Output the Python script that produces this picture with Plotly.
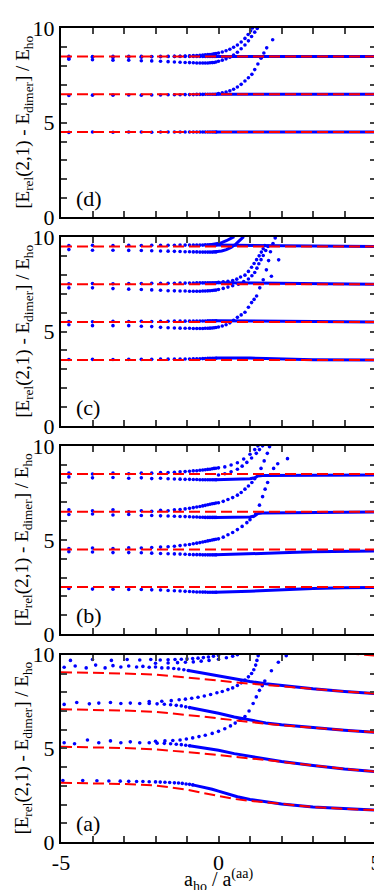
import plotly.graph_objects as go

# shared x grid for the sparse dotted rows on the negative side
XN = [-4.75, -4.0, -3.35, -2.85, -2.45, -2.12, -1.84, -1.6, -1.4, -1.22, -1.06,
      -0.92, -0.8, -0.69, -0.59, -0.5, -0.42, -0.34, -0.27, -0.2, -0.14, -0.08]

# ---------------- panel (d) ----------------
D_RED = [4.5, 6.5, 8.5]
D_ROW45 = [4.48, 4.5, 4.49, 4.5, 4.5, 4.49, 4.5, 4.5, 4.5, 4.5, 4.5, 4.5, 4.5, 4.5, 4.5, 4.5, 4.5, 4.5, 4.5, 4.5, 4.5, 4.5]
D_LINE45 = [(-0.1, 4.5), (5, 4.5)]
D_ROW65 = [6.43, 6.45, 6.45, 6.46, 6.45, 6.46, 6.46, 6.47, 6.47, 6.47, 6.48, 6.48, 6.48, 6.49, 6.49, 6.49, 6.5, 6.5, 6.5, 6.5, 6.5, 6.5]
D_LINE65 = [(-0.1, 6.5), (5, 6.5)]
D_RISE65 = [(0.0, 6.53), (0.12, 6.57), (0.24, 6.62), (0.36, 6.68), (0.48, 6.76), (0.6, 6.88), (0.72, 7.02),
            (0.84, 7.2), (0.95, 7.37), (1.06, 7.55), (1.15, 7.8), (1.25, 8.1), (1.35, 8.4), (1.44, 8.68),
            (1.53, 8.95), (1.72, 9.38)]
D_ROW85 = [8.5, 8.49, 8.5, 8.5, 8.5, 8.49, 8.5, 8.5, 8.5, 8.5, 8.5, 8.5, 8.5, 8.5, 8.5, 8.5, 8.5, 8.5, 8.5, 8.5, 8.5, 8.5]
D_LINE85 = [(-0.1, 8.5), (5, 8.5)]
D_ROW85_LOW = [8.35, 8.32, 8.3, 8.3, 8.27, 8.26, 8.24, 8.22, 8.2, 8.19, 8.18, 8.17, 8.16, 8.15, 8.15, 8.15, 8.15, 8.15, 8.16, 8.17, 8.18, 8.2]
D_RISE85_LOW = [(0.0, 8.24), (0.12, 8.3), (0.24, 8.37), (0.36, 8.46), (0.48, 8.57), (0.6, 8.72), (0.72, 8.9),
                (0.84, 9.1), (0.95, 9.32), (1.05, 9.55), (1.15, 9.78), (1.23, 9.98)]
D_ROW85_UP = [8.42, 8.46, 8.44, 8.47, 8.46, 8.48, 8.48, 8.49, 8.5, 8.51, 8.52, 8.53, 8.54, 8.55, 8.56, 8.57, 8.58, 8.59, 8.6, 8.61, 8.63, 8.65]
D_RISE85_UP = [(0.0, 8.68), (0.12, 8.73), (0.24, 8.8), (0.36, 8.88), (0.48, 8.98), (0.6, 9.1), (0.72, 9.26),
               (0.84, 9.45), (0.94, 9.66), (1.02, 9.85), (1.08, 10.0)]

# ---------------- panel (c) ----------------
C_RED = [3.5, 5.5, 7.5, 9.5]
C_ROW35 = [3.52, 3.53, 3.52, 3.53, 3.53, 3.53, 3.54, 3.54, 3.54, 3.55, 3.55, 3.55, 3.56, 3.56, 3.56, 3.57, 3.57, 3.58, 3.58, 3.58, 3.59, 3.59]
C_LINE35 = [(-0.1, 3.6), (0.5, 3.61), (1, 3.6), (1.5, 3.57), (2, 3.54), (2.5, 3.52), (3, 3.51), (5, 3.5)]
C_ROW55_UP = [5.53, 5.52, 5.54, 5.53, 5.54, 5.53, 5.54, 5.54, 5.55, 5.55, 5.55, 5.55, 5.56, 5.56, 5.56, 5.56, 5.56, 5.57, 5.57, 5.57, 5.57, 5.57]
C_LINE55 = [(-0.1, 5.57), (1, 5.56), (2, 5.52), (5, 5.5)]
C_ROW55_LOW = [5.36, 5.31, 5.31, 5.31, 5.28, 5.26, 5.22, 5.2, 5.19, 5.18, 5.17, 5.17, 5.16, 5.16, 5.16, 5.16, 5.17, 5.17, 5.18, 5.19, 5.2, 5.21]
C_RISE55 = [(0.0, 5.24), (0.12, 5.29), (0.24, 5.36), (0.36, 5.46), (0.48, 5.6), (0.6, 5.75), (0.72, 5.88),
            (0.84, 6.02), (0.95, 6.28), (1.05, 6.53), (1.13, 6.7), (1.21, 6.88), (1.31, 7.31), (1.42, 7.74),
            (1.52, 8.26), (1.59, 8.75), (1.65, 9.22), (1.73, 9.65), (1.8, 9.95)]
C_STRAY = [(1.68, 7.92), (1.91, 8.79)]
C_ROW75_UP = [7.53, 7.54, 7.53, 7.54, 7.54, 7.55, 7.55, 7.55, 7.55, 7.56, 7.56, 7.56, 7.56, 7.57, 7.57, 7.57, 7.57, 7.58, 7.58, 7.58, 7.58, 7.58]
C_LINE75 = [(-0.1, 7.58), (1, 7.56), (2, 7.52), (5, 7.5)]
C_ROW75_LOW = [7.31, 7.31, 7.27, 7.24, 7.22, 7.2, 7.18, 7.16, 7.15, 7.14, 7.14, 7.13, 7.13, 7.13, 7.13, 7.14, 7.14, 7.15, 7.16, 7.17, 7.18, 7.19]
C_RISE75_LOW = [(0.0, 7.22), (0.15, 7.28), (0.3, 7.35), (0.45, 7.42), (0.63, 7.5), (0.8, 7.64), (0.95, 7.78),
                (1.06, 7.95), (1.15, 8.12), (1.22, 8.35), (1.28, 8.58), (1.35, 8.8), (1.42, 9.02), (1.5, 9.28),
                (1.57, 9.5)]
C_RISE75_UP = [(0.0, 7.6), (0.15, 7.63), (0.3, 7.66), (0.45, 7.7), (0.58, 7.77), (0.7, 7.88), (0.84, 7.98),
               (0.95, 8.18), (1.05, 8.4), (1.13, 8.6), (1.21, 8.8), (1.29, 9.0), (1.36, 9.2), (1.42, 9.38),
               (1.47, 9.55)]
C_ROW95_UP = [9.55, 9.56, 9.55, 9.56, 9.55, 9.56, 9.56, 9.56, 9.56, 9.57, 9.57, 9.57, 9.57, 9.57, 9.57, 9.57, 9.58, 9.58, 9.58, 9.58, 9.58, 9.58]
C_LINE95 = [(-0.1, 9.57), (1, 9.55), (5, 9.5)]
C_ROW95_LOW = [9.33, 9.3, 9.3, 9.29, 9.28, 9.27, 9.26, 9.25, 9.24, 9.23, 9.22, 9.22, 9.21, 9.21, 9.2, 9.2, 9.2, 9.2, 9.2, 9.2, 9.21, 9.21]
C_RISE95_LOW = [(-0.1, 9.22), (0.1, 9.26), (0.25, 9.33), (0.4, 9.45), (0.55, 9.62), (0.7, 9.85), (0.8, 10.02)]
C_RISE95_UP = [(-0.3, 9.58), (-0.1, 9.62), (0.1, 9.7), (0.25, 9.8), (0.4, 9.92), (0.5, 10.02)]

# ---------------- panel (b) ----------------
B_RED = [2.5, 4.5, 6.5, 8.5]
B_ROW25 = [2.42, 2.39, 2.38, 2.37, 2.37, 2.35, 2.34, 2.32, 2.3, 2.29, 2.27, 2.26, 2.25, 2.24, 2.24, 2.23, 2.23, 2.22, 2.22, 2.22, 2.22, 2.22]
B_LINE25 = [(-0.1, 2.22), (0.5, 2.24), (1, 2.28), (1.5, 2.32), (2, 2.36), (3, 2.42), (4, 2.46), (5, 2.48)]
B_ROW45_LOW = [4.38, 4.36, 4.33, 4.33, 4.32, 4.3, 4.28, 4.27, 4.26, 4.25, 4.24, 4.23, 4.22, 4.22, 4.22, 4.21, 4.21, 4.21, 4.21, 4.21, 4.21, 4.21]
B_LINE45 = [(-0.1, 4.21), (1, 4.25), (2, 4.32), (3, 4.37), (4, 4.4), (5, 4.42)]
B_ROW45_UP = [4.55, 4.57, 4.55, 4.58, 4.57, 4.6, 4.62, 4.64, 4.67, 4.7, 4.73, 4.76, 4.8, 4.83, 4.86, 4.89, 4.92, 4.95, 4.97, 5.0, 5.02, 5.04]
B_RISE45 = [(0.0, 5.06), (0.15, 5.15), (0.3, 5.28), (0.45, 5.4), (0.6, 5.55), (0.75, 5.72), (0.9, 5.92),
            (1.0, 6.08), (1.1, 6.25), (1.18, 6.38), (1.3, 6.85), (1.4, 7.3), (1.48, 7.7), (1.56, 8.05),
            (1.65, 8.45), (1.75, 8.8), (1.88, 9.05), (2.19, 9.32)]
B_ROW65_LOW = [6.35, 6.38, 6.33, 6.35, 6.3, 6.3, 6.28, 6.27, 6.26, 6.25, 6.24, 6.23, 6.22, 6.22, 6.21, 6.21, 6.2, 6.2, 6.2, 6.2, 6.2, 6.2]
B_LINE65 = [(-0.1, 6.2), (0.6, 6.19), (1.0, 6.22), (1.15, 6.28), (1.25, 6.4), (1.4, 6.43), (2, 6.44), (3, 6.46), (5, 6.48)]
B_ROW65_UP = [6.6, 6.55, 6.6, 6.5, 6.55, 6.52, 6.58, 6.55, 6.6, 6.62, 6.65, 6.68, 6.72, 6.75, 6.78, 6.81, 6.84, 6.87, 6.9, 6.92, 6.94, 6.96]
B_RISE65 = [(0.0, 6.98), (0.15, 7.05), (0.3, 7.15), (0.45, 7.25), (0.6, 7.38), (0.72, 7.52), (0.84, 7.7),
            (0.95, 7.87), (1.06, 8.05), (1.15, 8.25), (1.25, 8.45), (1.35, 8.8), (1.45, 9.2), (1.55, 9.6),
            (1.62, 9.95)]
B_ROW85_LOW = [8.35, 8.3, 8.32, 8.28, 8.3, 8.26, 8.28, 8.25, 8.24, 8.23, 8.22, 8.22, 8.21, 8.21, 8.2, 8.2, 8.2, 8.2, 8.2, 8.2, 8.2, 8.2]
B_LINE85 = [(-0.1, 8.2), (0.6, 8.22), (1.0, 8.25), (1.15, 8.3), (1.25, 8.4), (1.4, 8.42), (2, 8.43), (3, 8.44), (5, 8.45)]
B_ROW85_UP = [8.55, 8.5, 8.55, 8.52, 8.55, 8.55, 8.58, 8.58, 8.6, 8.62, 8.63, 8.65, 8.67, 8.68, 8.7, 8.72, 8.73, 8.75, 8.76, 8.78, 8.8, 8.81]
B_RISE85_UP = [(0.0, 8.83), (0.2, 8.88), (0.4, 8.98), (0.6, 9.1), (0.8, 9.3), (1.0, 9.55), (1.15, 9.8), (1.25, 10.0)]
B_RISE85_MID = [(0.0, 8.45), (0.2, 8.52), (0.4, 8.62), (0.6, 8.76), (0.75, 8.92), (0.9, 9.12), (1.05, 9.35),
                (1.2, 9.6), (1.3, 9.8), (1.4, 10.0)]

# ---------------- panel (a) ----------------
A_XR = [-5, -4, -3, -2, -1, -0.5, 0, 0.5, 1, 1.5, 2, 3, 4, 5]
A_RED1 = [3.16, 3.13, 3.1, 3.02, 2.8, 2.62, 2.45, 2.3, 2.2, 2.12, 2.02, 1.87, 1.77, 1.7]
A_RED2 = [5.09, 5.06, 5.02, 4.95, 4.82, 4.72, 4.65, 4.55, 4.48, 4.38, 4.28, 4.08, 3.9, 3.76]
A_RED3 = [7.09, 7.06, 7.02, 6.95, 6.8, 6.7, 6.6, 6.5, 6.42, 6.32, 6.24, 6.1, 5.97, 5.86]
A_RED4 = [9.07, 9.04, 9.0, 8.94, 8.8, 8.7, 8.62, 8.53, 8.46, 8.38, 8.3, 8.16, 8.04, 7.93]
A_RED5 = [11.1, 11.07, 11.03, 10.97, 10.85, 10.75, 10.67, 10.58, 10.5, 10.42, 10.35, 10.2, 10.08, 9.96]

A_DOT1 = [(-4.94, 3.28), (-4.31, 3.28), (-3.86, 3.27), (-3.48, 3.26), (-3.12, 3.25), (-2.85, 3.24), (-2.6, 3.23),
          (-2.4, 3.23), (-2.2, 3.22), (-2.0, 3.21), (-1.85, 3.2), (-1.7, 3.19), (-1.55, 3.18), (-1.4, 3.16),
          (-1.27, 3.15), (-1.15, 3.13), (-1.03, 3.1), (-0.92, 3.08), (-0.82, 3.05)]
A_LINE1 = [(-0.82, 3.05), (-0.5, 2.95), (-0.2, 2.82), (0, 2.72), (0.3, 2.56), (0.6, 2.42), (1.0, 2.27),
           (1.5, 2.13), (2, 2.03), (3, 1.87), (4, 1.77), (5, 1.7)]
A_DOT2 = [(-4.9, 5.3), (-4.57, 5.25), (-4.16, 5.45), (-3.8, 5.3), (-3.43, 5.4), (-3.1, 5.3), (-2.8, 5.35),
          (-2.5, 5.3), (-2.2, 5.3), (-1.95, 5.28), (-1.72, 5.27), (-1.52, 5.25), (-1.34, 5.22), (-1.18, 5.2),
          (-1.04, 5.17), (-0.92, 5.14)]
A_LINE2 = [(-0.92, 5.14), (-0.5, 5.04), (0, 4.9), (0.5, 4.72), (1, 4.58), (1.5, 4.42), (2, 4.3),
           (3, 4.09), (4, 3.9), (5, 3.76)]
A_RISE2 = [(-2.0, 5.38), (-1.7, 5.4), (-1.45, 5.42), (-1.22, 5.45), (-1.02, 5.5), (-0.82, 5.56), (-0.62, 5.63),
           (-0.42, 5.7), (-0.2, 5.8), (0.0, 5.91), (0.2, 6.05), (0.38, 6.2), (0.53, 6.35), (0.68, 6.5),
           (0.84, 6.7), (0.97, 7.0), (1.1, 7.4), (1.2, 7.75), (1.3, 8.1), (1.39, 8.35), (1.47, 8.6),
           (1.68, 9.15), (1.9, 9.6), (2.15, 9.95)]
A_DOT3 = [(-4.9, 7.35), (-4.5, 7.45), (-4.1, 7.38), (-3.8, 7.42), (-3.43, 7.45), (-3.1, 7.4), (-2.8, 7.42),
          (-2.5, 7.4), (-2.2, 7.4), (-1.95, 7.38), (-1.72, 7.36), (-1.52, 7.33), (-1.34, 7.3), (-1.18, 7.27),
          (-1.04, 7.22), (-0.92, 7.18)]
A_LINE3 = [(-0.92, 7.18), (-0.5, 7.05), (0, 6.88), (0.5, 6.68), (1, 6.5), (1.5, 6.36), (2, 6.26),
           (3, 6.1), (4, 5.97), (5, 5.86)]
A_RISE3 = [(-2.2, 7.5), (-1.8, 7.52), (-1.5, 7.55), (-1.25, 7.6), (-1.05, 7.63), (-0.85, 7.68), (-0.65, 7.73),
           (-0.45, 7.8), (-0.25, 7.88), (-0.05, 7.97), (0.12, 8.04), (0.3, 8.14), (0.45, 8.23), (0.6, 8.36),
           (0.72, 8.5), (0.84, 8.65), (0.95, 8.82), (1.05, 9.0), (1.12, 9.2), (1.18, 9.45), (1.22, 9.7), (1.26, 9.95)]
A_DOT4 = [(-4.9, 9.33), (-4.55, 9.4), (-4.2, 9.3), (-3.9, 9.45), (-3.6, 9.3), (-3.35, 9.42), (-3.1, 9.35),
          (-2.85, 9.4), (-2.6, 9.35), (-2.4, 9.38), (-2.2, 9.33), (-2.0, 9.35), (-1.8, 9.3), (-1.6, 9.3),
          (-1.42, 9.27), (-1.26, 9.24), (-1.1, 9.2), (-0.96, 9.16)]
A_LINE4 = [(-0.96, 9.16), (-0.5, 9.02), (0, 8.86), (0.5, 8.7), (1, 8.57), (1.5, 8.45), (2, 8.35),
           (3, 8.18), (4, 8.04), (5, 7.93)]
A_RISE4 = [(-4.7, 9.7), (-4.0, 9.75), (-3.4, 9.7), (-2.9, 9.75), (-2.5, 9.72), (-2.15, 9.75), (-1.85, 9.72),
           (-1.6, 9.73), (-1.38, 9.75), (-1.18, 9.76), (-1.0, 9.78), (-0.82, 9.8), (-0.65, 9.82), (-0.48, 9.85),
           (-0.32, 9.88), (-0.16, 9.92), (0.0, 9.96)]
A_RISE4B = [(-2.0, 9.55), (-1.6, 9.56), (-1.3, 9.58), (-1.05, 9.6), (-0.8, 9.62), (-0.55, 9.66), (-0.3, 9.7),
            (0.0, 9.76), (0.25, 9.84), (0.45, 9.92), (0.6, 10.0)]

PANEL_LABELS = ['(d)', '(c)', '(b)', '(a)']
DOMAINS = [(0.7676, 1.0), (0.5109, 0.7433), (0.2554, 0.4867), (0.0, 0.2300)]

BLUE = '#0000ff'
RED = '#ff0000'
fig = go.Figure()


def ax(i):
    return ('x' if i == 1 else 'x%d' % i), ('y' if i == 1 else 'y%d' % i)


def dots(i, pts):
    xa, ya = ax(i)
    fig.add_trace(go.Scatter(x=[p[0] for p in pts], y=[p[1] for p in pts], mode='markers',
                             marker=dict(color=BLUE, size=3.6), xaxis=xa, yaxis=ya, showlegend=False))


def row(i, ys):
    dots(i, list(zip(XN, ys)))


def line(i, pts):
    xa, ya = ax(i)
    fig.add_trace(go.Scatter(x=[p[0] for p in pts], y=[p[1] for p in pts], mode='lines',
                             line=dict(color=BLUE, width=3), xaxis=xa, yaxis=ya, showlegend=False))


def red(i, xs, ys):
    xa, ya = ax(i)
    fig.add_trace(go.Scatter(x=xs, y=ys, mode='lines', line=dict(color=RED, width=2, dash='11px,5px'),
                             xaxis=xa, yaxis=ya, showlegend=False))


# panel d
for r in [D_ROW45, D_ROW65, D_ROW85, D_ROW85_LOW, D_ROW85_UP]:
    row(1, r)
for l in [D_LINE45, D_LINE65, D_LINE85]:
    line(1, l)
for d in [D_RISE65, D_RISE85_LOW, D_RISE85_UP]:
    dots(1, d)
for lv in D_RED:
    red(1, [-5, 5], [lv, lv])

# panel c
for r in [C_ROW35, C_ROW55_UP, C_ROW55_LOW, C_ROW75_UP, C_ROW75_LOW, C_ROW95_UP, C_ROW95_LOW]:
    row(2, r)
for l in [C_LINE35, C_LINE55, C_LINE75, C_LINE95, C_RISE95_LOW, C_RISE95_UP]:
    line(2, l)
for d in [C_RISE55, C_STRAY, C_RISE75_LOW, C_RISE75_UP]:
    dots(2, d)
for lv in C_RED:
    red(2, [-5, 5], [lv, lv])

# panel b
for r in [B_ROW25, B_ROW45_LOW, B_ROW45_UP, B_ROW65_LOW, B_ROW65_UP, B_ROW85_LOW, B_ROW85_UP]:
    row(3, r)
for l in [B_LINE25, B_LINE45, B_LINE65, B_LINE85]:
    line(3, l)
for d in [B_RISE45, B_RISE65, B_RISE85_UP, B_RISE85_MID]:
    dots(3, d)
for lv in B_RED:
    red(3, [-5, 5], [lv, lv])

# panel a
for d in [A_DOT1, A_DOT2, A_DOT3, A_DOT4, A_RISE2, A_RISE3, A_RISE4, A_RISE4B]:
    dots(4, d)
for l in [A_LINE1, A_LINE2, A_LINE3, A_LINE4]:
    line(4, l)
for rc in [A_RED1, A_RED2, A_RED3, A_RED4, A_RED5]:
    red(4, A_XR, rc)

FONT = 'Liberation Serif'
XT = list(range(-5, 6))
YT = list(range(0, 11))
layout = dict(width=382, height=890, margin=dict(l=53, r=9, t=8, b=56),
              paper_bgcolor='white', plot_bgcolor='white',
              font=dict(family=FONT, size=22, color='black'))
annots = []
for i in range(1, 5):
    xa, ya = ax(i)
    xkey = 'xaxis' if i == 1 else 'xaxis%d' % i
    ykey = 'yaxis' if i == 1 else 'yaxis%d' % i
    layout[xkey] = dict(domain=[0, 1], anchor=ya, range=[-5, 5], tickmode='array', tickvals=XT,
                        ticktext=['-5', '', '', '', '', '0', '', '', '', '', '5'],
                        showticklabels=(i == 4), ticks='inside', ticklen=6, tickwidth=1.5,
                        showline=True, linewidth=2, linecolor='black', mirror='allticks',
                        showgrid=False, zeroline=False, tickfont=dict(family=FONT, size=22))
    layout[ykey] = dict(domain=list(DOMAINS[i - 1]), anchor=xa, range=[0, 10], tickmode='array', tickvals=YT,
                        ticktext=['0', '', '', '', '', '5', '', '', '', '', '10'],
                        ticks='inside', ticklen=6, tickwidth=1.5,
                        showline=True, linewidth=2, linecolor='black', mirror='allticks',
                        showgrid=False, zeroline=False, tickfont=dict(family=FONT, size=22))
    annots.append(dict(text=PANEL_LABELS[i - 1], x=-4.6, y=1.0, xref=xa, yref=ya, xanchor='left',
                       yanchor='middle', showarrow=False, font=dict(family=FONT, size=22)))
    annots.append(dict(text='[E<sub>rel</sub>(2,1) - E<sub>dimer</sub>] / E<sub>ho</sub>', textangle=-90,
                       x=-0.12, y=(DOMAINS[i - 1][0] + DOMAINS[i - 1][1]) / 2, xref='paper', yref='paper',
                       xanchor='center', yanchor='middle', showarrow=False, font=dict(family=FONT, size=19)))
annots.append(dict(text='a<sub>ho</sub> / a<sup>(aa)</sup>', x=0.5, y=-0.047, xref='paper', yref='paper',
                   xanchor='center', yanchor='middle', showarrow=False, font=dict(family=FONT, size=20)))
layout['annotations'] = annots
fig.update_layout(**layout)
fig.write_html('out.html')
